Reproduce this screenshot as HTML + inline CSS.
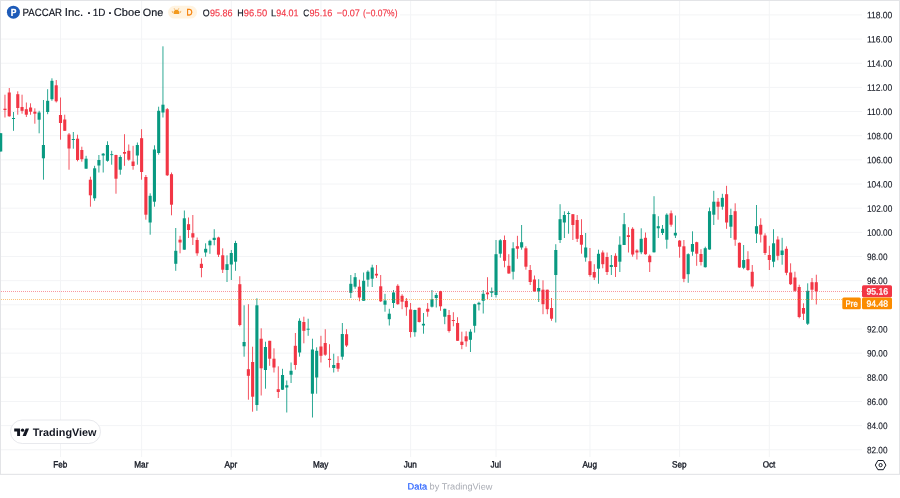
<!DOCTYPE html>
<html><head><meta charset="utf-8"><title>PACCAR Inc. chart</title>
<style>
html,body{margin:0;padding:0;background:#fff;}
body{width:900px;height:498px;position:relative;overflow:hidden;font-family:"Liberation Sans",sans-serif;}
svg{position:absolute;left:0;top:0;}
</style></head><body>

<svg width="900" height="498" viewBox="0 0 900 498">
<g fill="#e3e4e7"><rect x="0" y="0" width="900" height="1"/><rect x="0" y="0" width="1" height="474.5"/><rect x="899" y="0" width="1" height="474.5"/><rect x="0" y="473.8" width="900" height="1.1"/></g>
<rect x="1" y="449.28" width="861" height="1" fill="#f3f4f6"/>
<rect x="1" y="425.12" width="861" height="1" fill="#f3f4f6"/>
<rect x="1" y="400.96" width="861" height="1" fill="#f3f4f6"/>
<rect x="1" y="376.80" width="861" height="1" fill="#f3f4f6"/>
<rect x="1" y="352.64" width="861" height="1" fill="#f3f4f6"/>
<rect x="1" y="328.48" width="861" height="1" fill="#f3f4f6"/>
<rect x="1" y="304.32" width="861" height="1" fill="#f3f4f6"/>
<rect x="1" y="280.16" width="861" height="1" fill="#f3f4f6"/>
<rect x="1" y="256.00" width="861" height="1" fill="#f3f4f6"/>
<rect x="1" y="231.84" width="861" height="1" fill="#f3f4f6"/>
<rect x="1" y="207.68" width="861" height="1" fill="#f3f4f6"/>
<rect x="1" y="183.52" width="861" height="1" fill="#f3f4f6"/>
<rect x="1" y="159.36" width="861" height="1" fill="#f3f4f6"/>
<rect x="1" y="135.20" width="861" height="1" fill="#f3f4f6"/>
<rect x="1" y="111.04" width="861" height="1" fill="#f3f4f6"/>
<rect x="1" y="86.88" width="861" height="1" fill="#f3f4f6"/>
<rect x="1" y="62.72" width="861" height="1" fill="#f3f4f6"/>
<rect x="1" y="38.56" width="861" height="1" fill="#f3f4f6"/>
<rect x="400" y="14.40" width="462" height="1" fill="#f3f4f6"/>
<rect x="59.98" y="1" width="1" height="456" fill="#f3f4f6"/>
<rect x="141.11" y="1" width="1" height="456" fill="#f3f4f6"/>
<rect x="230.78" y="1" width="1" height="456" fill="#f3f4f6"/>
<rect x="320.45" y="1" width="1" height="456" fill="#f3f4f6"/>
<rect x="410.12" y="1" width="1" height="456" fill="#f3f4f6"/>
<rect x="495.52" y="1" width="1" height="456" fill="#f3f4f6"/>
<rect x="589.46" y="1" width="1" height="456" fill="#f3f4f6"/>
<rect x="679.13" y="1" width="1" height="456" fill="#f3f4f6"/>
<rect x="768.80" y="1" width="1" height="456" fill="#f3f4f6"/>
</svg>
<svg width="900" height="498" viewBox="0 0 900 498">
<rect x="0.27" y="133.2" width="0.85" height="18.3" fill="#089981"/>
<rect x="-0.85" y="133.2" width="3.1" height="18.3" fill="#089981"/>
<rect x="4.54" y="94.7" width="0.85" height="22.8" fill="#f23645"/>
<rect x="3.42" y="108.7" width="3.1" height="1.3" fill="#f23645"/>
<rect x="8.81" y="88.0" width="0.85" height="28.7" fill="#f23645"/>
<rect x="7.69" y="92.5" width="3.1" height="23.8" fill="#f23645"/>
<rect x="13.08" y="112.0" width="0.85" height="18.8" fill="#089981"/>
<rect x="11.96" y="118.0" width="3.1" height="1.0" fill="#089981"/>
<rect x="17.35" y="91.3" width="0.85" height="23.4" fill="#f23645"/>
<rect x="16.23" y="94.2" width="3.1" height="13.8" fill="#f23645"/>
<rect x="21.62" y="94.7" width="0.85" height="19.0" fill="#f23645"/>
<rect x="20.50" y="107.0" width="3.1" height="3.8" fill="#f23645"/>
<rect x="25.89" y="102.5" width="0.85" height="14.5" fill="#f23645"/>
<rect x="24.77" y="109.2" width="3.1" height="5.5" fill="#f23645"/>
<rect x="30.16" y="103.3" width="0.85" height="11.4" fill="#f23645"/>
<rect x="29.04" y="107.5" width="3.1" height="4.2" fill="#f23645"/>
<rect x="34.44" y="108.3" width="0.85" height="15.4" fill="#f23645"/>
<rect x="33.31" y="111.7" width="3.1" height="2.0" fill="#f23645"/>
<rect x="38.70" y="110.8" width="0.85" height="22.5" fill="#089981"/>
<rect x="37.58" y="112.5" width="3.1" height="7.2" fill="#089981"/>
<rect x="42.98" y="100.0" width="0.85" height="79.7" fill="#089981"/>
<rect x="41.85" y="145.0" width="3.1" height="13.3" fill="#089981"/>
<rect x="47.25" y="89.2" width="0.85" height="25.0" fill="#089981"/>
<rect x="46.12" y="100.8" width="3.1" height="11.2" fill="#089981"/>
<rect x="51.52" y="78.3" width="0.85" height="22.5" fill="#089981"/>
<rect x="50.39" y="80.8" width="3.1" height="18.4" fill="#089981"/>
<rect x="55.78" y="80.0" width="0.85" height="22.5" fill="#f23645"/>
<rect x="54.66" y="85.3" width="3.1" height="16.0" fill="#f23645"/>
<rect x="60.05" y="97.5" width="0.85" height="42.2" fill="#f23645"/>
<rect x="58.93" y="115.0" width="3.1" height="8.0" fill="#f23645"/>
<rect x="64.33" y="114.7" width="0.85" height="16.1" fill="#f23645"/>
<rect x="63.20" y="119.5" width="3.1" height="11.3" fill="#f23645"/>
<rect x="68.59" y="133.0" width="0.85" height="36.7" fill="#f23645"/>
<rect x="67.47" y="134.5" width="3.1" height="14.0" fill="#f23645"/>
<rect x="72.86" y="132.0" width="0.85" height="16.7" fill="#089981"/>
<rect x="71.74" y="139.0" width="3.1" height="1.0" fill="#089981"/>
<rect x="77.13" y="134.7" width="0.85" height="26.6" fill="#f23645"/>
<rect x="76.01" y="138.7" width="3.1" height="21.3" fill="#f23645"/>
<rect x="81.41" y="146.7" width="0.85" height="15.0" fill="#f23645"/>
<rect x="80.28" y="150.0" width="3.1" height="9.2" fill="#f23645"/>
<rect x="85.67" y="155.8" width="0.85" height="12.9" fill="#089981"/>
<rect x="84.55" y="158.7" width="3.1" height="10.0" fill="#089981"/>
<rect x="89.94" y="176.7" width="0.85" height="30.0" fill="#f23645"/>
<rect x="88.82" y="179.7" width="3.1" height="15.6" fill="#f23645"/>
<rect x="94.22" y="165.8" width="0.85" height="35.0" fill="#089981"/>
<rect x="93.09" y="168.3" width="3.1" height="30.0" fill="#089981"/>
<rect x="98.48" y="155.0" width="0.85" height="17.5" fill="#089981"/>
<rect x="97.36" y="160.0" width="3.1" height="5.5" fill="#089981"/>
<rect x="102.75" y="153.0" width="0.85" height="19.5" fill="#089981"/>
<rect x="101.63" y="153.7" width="3.1" height="1.8" fill="#089981"/>
<rect x="107.02" y="141.3" width="0.85" height="20.4" fill="#089981"/>
<rect x="105.90" y="145.0" width="3.1" height="15.8" fill="#089981"/>
<rect x="111.29" y="150.8" width="0.85" height="13.9" fill="#089981"/>
<rect x="110.17" y="154.2" width="3.1" height="0.9" fill="#089981"/>
<rect x="115.56" y="154.7" width="0.85" height="39.0" fill="#f23645"/>
<rect x="114.44" y="155.0" width="3.1" height="23.7" fill="#f23645"/>
<rect x="119.83" y="155.3" width="0.85" height="19.4" fill="#089981"/>
<rect x="118.71" y="157.0" width="3.1" height="12.7" fill="#089981"/>
<rect x="124.10" y="134.2" width="0.85" height="31.6" fill="#f23645"/>
<rect x="122.98" y="152.0" width="3.1" height="1.7" fill="#f23645"/>
<rect x="128.37" y="144.5" width="0.85" height="16.3" fill="#f23645"/>
<rect x="127.25" y="150.8" width="3.1" height="8.9" fill="#f23645"/>
<rect x="132.64" y="145.8" width="0.85" height="23.9" fill="#f23645"/>
<rect x="131.52" y="161.5" width="3.1" height="4.5" fill="#f23645"/>
<rect x="136.91" y="142.5" width="0.85" height="22.2" fill="#089981"/>
<rect x="135.79" y="145.0" width="3.1" height="10.5" fill="#089981"/>
<rect x="141.18" y="129.2" width="0.85" height="50.5" fill="#f23645"/>
<rect x="140.06" y="138.2" width="3.1" height="33.8" fill="#f23645"/>
<rect x="145.45" y="175.0" width="0.85" height="44.7" fill="#f23645"/>
<rect x="144.33" y="177.0" width="3.1" height="37.7" fill="#f23645"/>
<rect x="149.72" y="193.3" width="0.85" height="41.4" fill="#089981"/>
<rect x="148.60" y="195.8" width="3.1" height="26.7" fill="#089981"/>
<rect x="153.99" y="145.3" width="0.85" height="61.4" fill="#089981"/>
<rect x="152.87" y="149.5" width="3.1" height="52.2" fill="#089981"/>
<rect x="158.26" y="106.7" width="0.85" height="48.0" fill="#089981"/>
<rect x="157.14" y="110.8" width="3.1" height="42.2" fill="#089981"/>
<rect x="162.53" y="46.3" width="0.85" height="71.2" fill="#089981"/>
<rect x="161.41" y="104.7" width="3.1" height="7.8" fill="#089981"/>
<rect x="166.80" y="108.0" width="0.85" height="68.0" fill="#f23645"/>
<rect x="165.68" y="109.2" width="3.1" height="66.1" fill="#f23645"/>
<rect x="171.07" y="172.5" width="0.85" height="42.8" fill="#f23645"/>
<rect x="169.95" y="174.2" width="3.1" height="30.5" fill="#f23645"/>
<rect x="175.34" y="228.0" width="0.85" height="42.8" fill="#089981"/>
<rect x="174.22" y="250.8" width="3.1" height="13.0" fill="#089981"/>
<rect x="179.61" y="235.8" width="0.85" height="17.5" fill="#f23645"/>
<rect x="178.49" y="239.7" width="3.1" height="2.8" fill="#f23645"/>
<rect x="183.88" y="210.5" width="0.85" height="39.2" fill="#089981"/>
<rect x="182.76" y="218.3" width="3.1" height="31.4" fill="#089981"/>
<rect x="188.15" y="217.5" width="0.85" height="20.5" fill="#f23645"/>
<rect x="187.03" y="224.2" width="3.1" height="5.8" fill="#f23645"/>
<rect x="192.42" y="215.0" width="0.85" height="30.0" fill="#f23645"/>
<rect x="191.30" y="233.2" width="3.1" height="4.3" fill="#f23645"/>
<rect x="196.69" y="237.5" width="0.85" height="18.3" fill="#f23645"/>
<rect x="195.57" y="240.0" width="3.1" height="13.3" fill="#f23645"/>
<rect x="200.96" y="258.3" width="0.85" height="19.0" fill="#f23645"/>
<rect x="199.84" y="263.8" width="3.1" height="4.2" fill="#f23645"/>
<rect x="205.23" y="243.3" width="0.85" height="13.4" fill="#089981"/>
<rect x="204.11" y="248.8" width="3.1" height="3.7" fill="#089981"/>
<rect x="209.50" y="239.7" width="0.85" height="14.1" fill="#089981"/>
<rect x="208.38" y="240.8" width="3.1" height="4.5" fill="#089981"/>
<rect x="213.77" y="229.2" width="0.85" height="16.1" fill="#089981"/>
<rect x="212.65" y="237.8" width="3.1" height="2.2" fill="#089981"/>
<rect x="218.04" y="236.7" width="0.85" height="20.3" fill="#f23645"/>
<rect x="216.92" y="237.5" width="3.1" height="17.2" fill="#f23645"/>
<rect x="222.31" y="248.3" width="0.85" height="24.7" fill="#f23645"/>
<rect x="221.19" y="255.3" width="3.1" height="14.4" fill="#f23645"/>
<rect x="226.58" y="255.3" width="0.85" height="26.7" fill="#089981"/>
<rect x="225.46" y="264.2" width="3.1" height="5.8" fill="#089981"/>
<rect x="230.85" y="250.0" width="0.85" height="30.0" fill="#089981"/>
<rect x="229.73" y="253.0" width="3.1" height="11.5" fill="#089981"/>
<rect x="235.12" y="240.8" width="0.85" height="30.0" fill="#089981"/>
<rect x="234.00" y="243.0" width="3.1" height="18.7" fill="#089981"/>
<rect x="239.39" y="276.2" width="0.85" height="50.1" fill="#f23645"/>
<rect x="238.27" y="284.2" width="3.1" height="40.8" fill="#f23645"/>
<rect x="243.66" y="305.3" width="0.85" height="51.4" fill="#089981"/>
<rect x="242.54" y="342.0" width="3.1" height="4.3" fill="#089981"/>
<rect x="247.93" y="304.2" width="0.85" height="95.5" fill="#f23645"/>
<rect x="246.81" y="369.2" width="3.1" height="6.6" fill="#f23645"/>
<rect x="252.20" y="346.7" width="0.85" height="65.0" fill="#f23645"/>
<rect x="251.08" y="362.0" width="3.1" height="34.7" fill="#f23645"/>
<rect x="256.47" y="298.3" width="0.85" height="112.5" fill="#089981"/>
<rect x="255.35" y="305.3" width="3.1" height="99.7" fill="#089981"/>
<rect x="260.74" y="328.3" width="0.85" height="67.2" fill="#f23645"/>
<rect x="259.62" y="338.7" width="3.1" height="29.6" fill="#f23645"/>
<rect x="265.01" y="341.7" width="0.85" height="47.0" fill="#089981"/>
<rect x="263.89" y="347.0" width="3.1" height="23.0" fill="#089981"/>
<rect x="269.28" y="340.8" width="0.85" height="25.0" fill="#f23645"/>
<rect x="268.16" y="340.8" width="3.1" height="17.9" fill="#f23645"/>
<rect x="273.55" y="348.3" width="0.85" height="24.2" fill="#f23645"/>
<rect x="272.43" y="358.7" width="3.1" height="8.8" fill="#f23645"/>
<rect x="277.82" y="366.3" width="0.85" height="31.7" fill="#f23645"/>
<rect x="276.70" y="389.2" width="3.1" height="2.8" fill="#f23645"/>
<rect x="282.09" y="368.8" width="0.85" height="21.2" fill="#089981"/>
<rect x="280.97" y="375.0" width="3.1" height="14.7" fill="#089981"/>
<rect x="286.36" y="380.5" width="0.85" height="32.0" fill="#089981"/>
<rect x="285.24" y="385.3" width="3.1" height="2.2" fill="#089981"/>
<rect x="290.63" y="362.5" width="0.85" height="20.5" fill="#089981"/>
<rect x="289.51" y="370.8" width="3.1" height="3.9" fill="#089981"/>
<rect x="294.90" y="333.0" width="0.85" height="36.7" fill="#f23645"/>
<rect x="293.78" y="345.8" width="3.1" height="19.2" fill="#f23645"/>
<rect x="299.17" y="318.3" width="0.85" height="38.4" fill="#089981"/>
<rect x="298.05" y="320.8" width="3.1" height="31.7" fill="#089981"/>
<rect x="303.44" y="316.7" width="0.85" height="26.6" fill="#f23645"/>
<rect x="302.32" y="322.0" width="3.1" height="8.8" fill="#f23645"/>
<rect x="307.71" y="318.7" width="0.85" height="17.1" fill="#089981"/>
<rect x="306.59" y="328.7" width="3.1" height="1.0" fill="#089981"/>
<rect x="311.98" y="338.7" width="0.85" height="78.8" fill="#089981"/>
<rect x="310.86" y="349.5" width="3.1" height="44.2" fill="#089981"/>
<rect x="316.25" y="347.3" width="0.85" height="46.4" fill="#089981"/>
<rect x="315.13" y="350.8" width="3.1" height="26.7" fill="#089981"/>
<rect x="320.52" y="335.8" width="0.85" height="26.7" fill="#f23645"/>
<rect x="319.40" y="346.5" width="3.1" height="9.3" fill="#f23645"/>
<rect x="324.79" y="329.2" width="0.85" height="26.6" fill="#f23645"/>
<rect x="323.67" y="343.0" width="3.1" height="11.7" fill="#f23645"/>
<rect x="329.06" y="344.2" width="0.85" height="23.3" fill="#f23645"/>
<rect x="327.94" y="358.8" width="3.1" height="1.2" fill="#f23645"/>
<rect x="333.33" y="353.7" width="0.85" height="18.8" fill="#089981"/>
<rect x="332.21" y="365.0" width="3.1" height="3.0" fill="#089981"/>
<rect x="337.60" y="356.2" width="0.85" height="15.5" fill="#f23645"/>
<rect x="336.48" y="363.0" width="3.1" height="5.7" fill="#f23645"/>
<rect x="341.87" y="323.0" width="0.85" height="36.7" fill="#089981"/>
<rect x="340.75" y="334.0" width="3.1" height="22.7" fill="#089981"/>
<rect x="346.14" y="329.2" width="0.85" height="17.8" fill="#f23645"/>
<rect x="345.02" y="334.2" width="3.1" height="11.3" fill="#f23645"/>
<rect x="350.41" y="275.0" width="0.85" height="23.0" fill="#089981"/>
<rect x="349.29" y="283.8" width="3.1" height="9.0" fill="#089981"/>
<rect x="354.68" y="273.0" width="0.85" height="15.7" fill="#089981"/>
<rect x="353.56" y="277.2" width="3.1" height="9.5" fill="#089981"/>
<rect x="358.95" y="279.7" width="0.85" height="21.6" fill="#f23645"/>
<rect x="357.83" y="286.7" width="3.1" height="10.8" fill="#f23645"/>
<rect x="363.22" y="272.5" width="0.85" height="28.3" fill="#089981"/>
<rect x="362.10" y="280.8" width="3.1" height="20.0" fill="#089981"/>
<rect x="367.49" y="270.3" width="0.85" height="16.4" fill="#089981"/>
<rect x="366.37" y="271.7" width="3.1" height="8.0" fill="#089981"/>
<rect x="371.76" y="264.7" width="0.85" height="22.3" fill="#089981"/>
<rect x="370.64" y="267.5" width="3.1" height="11.2" fill="#089981"/>
<rect x="376.03" y="265.0" width="0.85" height="13.0" fill="#f23645"/>
<rect x="374.91" y="273.8" width="3.1" height="1.7" fill="#f23645"/>
<rect x="380.30" y="275.0" width="0.85" height="27.0" fill="#f23645"/>
<rect x="379.18" y="286.3" width="3.1" height="15.0" fill="#f23645"/>
<rect x="384.57" y="293.8" width="0.85" height="17.9" fill="#089981"/>
<rect x="383.45" y="300.5" width="3.1" height="4.2" fill="#089981"/>
<rect x="388.84" y="308.8" width="0.85" height="16.7" fill="#089981"/>
<rect x="387.72" y="313.7" width="3.1" height="5.5" fill="#089981"/>
<rect x="393.11" y="290.0" width="0.85" height="18.0" fill="#089981"/>
<rect x="391.99" y="292.5" width="3.1" height="10.5" fill="#089981"/>
<rect x="397.38" y="284.2" width="0.85" height="20.5" fill="#f23645"/>
<rect x="396.26" y="285.8" width="3.1" height="18.4" fill="#f23645"/>
<rect x="401.65" y="294.2" width="0.85" height="15.0" fill="#f23645"/>
<rect x="400.53" y="295.8" width="3.1" height="5.9" fill="#f23645"/>
<rect x="405.92" y="298.0" width="0.85" height="17.8" fill="#f23645"/>
<rect x="404.80" y="300.8" width="3.1" height="6.4" fill="#f23645"/>
<rect x="410.19" y="303.0" width="0.85" height="34.5" fill="#f23645"/>
<rect x="409.07" y="309.5" width="3.1" height="22.5" fill="#f23645"/>
<rect x="414.46" y="309.7" width="0.85" height="27.0" fill="#089981"/>
<rect x="413.34" y="310.0" width="3.1" height="22.2" fill="#089981"/>
<rect x="418.73" y="307.5" width="0.85" height="15.0" fill="#f23645"/>
<rect x="417.61" y="307.8" width="3.1" height="14.2" fill="#f23645"/>
<rect x="423.00" y="313.0" width="0.85" height="20.7" fill="#089981"/>
<rect x="421.88" y="323.8" width="3.1" height="1.7" fill="#089981"/>
<rect x="427.27" y="303.0" width="0.85" height="13.7" fill="#f23645"/>
<rect x="426.15" y="308.8" width="3.1" height="2.9" fill="#f23645"/>
<rect x="431.54" y="290.0" width="0.85" height="17.5" fill="#089981"/>
<rect x="430.42" y="299.2" width="3.1" height="7.5" fill="#089981"/>
<rect x="435.81" y="293.0" width="0.85" height="14.5" fill="#089981"/>
<rect x="434.69" y="295.0" width="3.1" height="3.0" fill="#089981"/>
<rect x="440.08" y="290.8" width="0.85" height="20.0" fill="#f23645"/>
<rect x="438.96" y="291.2" width="3.1" height="15.1" fill="#f23645"/>
<rect x="444.35" y="308.7" width="0.85" height="15.5" fill="#089981"/>
<rect x="443.23" y="308.8" width="3.1" height="7.9" fill="#089981"/>
<rect x="448.62" y="310.0" width="0.85" height="22.6" fill="#f23645"/>
<rect x="447.50" y="315.0" width="3.1" height="16.0" fill="#f23645"/>
<rect x="452.89" y="312.2" width="0.85" height="14.1" fill="#f23645"/>
<rect x="451.77" y="320.0" width="3.1" height="1.0" fill="#f23645"/>
<rect x="457.16" y="317.2" width="0.85" height="23.6" fill="#f23645"/>
<rect x="456.04" y="323.0" width="3.1" height="17.8" fill="#f23645"/>
<rect x="461.43" y="331.7" width="0.85" height="17.5" fill="#f23645"/>
<rect x="460.31" y="341.7" width="3.1" height="3.3" fill="#f23645"/>
<rect x="465.70" y="331.3" width="0.85" height="15.4" fill="#f23645"/>
<rect x="464.58" y="336.3" width="3.1" height="5.0" fill="#f23645"/>
<rect x="469.97" y="329.2" width="0.85" height="22.8" fill="#089981"/>
<rect x="468.85" y="331.7" width="3.1" height="8.1" fill="#089981"/>
<rect x="474.24" y="303.7" width="0.85" height="28.9" fill="#089981"/>
<rect x="473.12" y="304.2" width="3.1" height="21.6" fill="#089981"/>
<rect x="478.51" y="301.7" width="0.85" height="8.8" fill="#089981"/>
<rect x="477.39" y="302.8" width="3.1" height="1.7" fill="#089981"/>
<rect x="482.78" y="290.0" width="0.85" height="23.5" fill="#089981"/>
<rect x="481.66" y="293.8" width="3.1" height="7.0" fill="#089981"/>
<rect x="487.05" y="277.2" width="0.85" height="21.8" fill="#f23645"/>
<rect x="485.93" y="292.5" width="3.1" height="1.8" fill="#f23645"/>
<rect x="491.32" y="287.5" width="0.85" height="9.5" fill="#089981"/>
<rect x="490.20" y="291.2" width="3.1" height="1.6" fill="#089981"/>
<rect x="495.59" y="240.0" width="0.85" height="57.5" fill="#089981"/>
<rect x="494.47" y="254.2" width="3.1" height="40.8" fill="#089981"/>
<rect x="499.86" y="239.2" width="0.85" height="18.5" fill="#089981"/>
<rect x="498.74" y="240.3" width="3.1" height="13.4" fill="#089981"/>
<rect x="504.13" y="235.5" width="0.85" height="31.8" fill="#f23645"/>
<rect x="503.01" y="240.0" width="3.1" height="20.8" fill="#f23645"/>
<rect x="508.40" y="254.2" width="0.85" height="19.5" fill="#f23645"/>
<rect x="507.28" y="265.8" width="3.1" height="7.7" fill="#f23645"/>
<rect x="512.68" y="242.2" width="0.85" height="37.3" fill="#089981"/>
<rect x="511.55" y="248.3" width="3.1" height="23.4" fill="#089981"/>
<rect x="516.95" y="235.8" width="0.85" height="23.0" fill="#f23645"/>
<rect x="515.82" y="246.2" width="3.1" height="2.5" fill="#f23645"/>
<rect x="521.22" y="225.0" width="0.85" height="24.7" fill="#089981"/>
<rect x="520.09" y="242.2" width="3.1" height="5.3" fill="#089981"/>
<rect x="525.49" y="246.3" width="0.85" height="23.4" fill="#f23645"/>
<rect x="524.36" y="248.3" width="3.1" height="18.4" fill="#f23645"/>
<rect x="529.75" y="265.0" width="0.85" height="20.0" fill="#f23645"/>
<rect x="528.63" y="270.0" width="3.1" height="12.0" fill="#f23645"/>
<rect x="534.03" y="275.5" width="0.85" height="16.2" fill="#f23645"/>
<rect x="532.90" y="279.5" width="3.1" height="11.8" fill="#f23645"/>
<rect x="538.30" y="279.2" width="0.85" height="22.8" fill="#089981"/>
<rect x="537.17" y="288.0" width="3.1" height="3.3" fill="#089981"/>
<rect x="542.57" y="280.3" width="0.85" height="33.9" fill="#f23645"/>
<rect x="541.44" y="289.7" width="3.1" height="14.5" fill="#f23645"/>
<rect x="546.84" y="289.7" width="0.85" height="24.5" fill="#f23645"/>
<rect x="545.71" y="289.7" width="3.1" height="19.5" fill="#f23645"/>
<rect x="551.11" y="298.0" width="0.85" height="22.8" fill="#f23645"/>
<rect x="549.98" y="308.0" width="3.1" height="10.7" fill="#f23645"/>
<rect x="555.38" y="244.2" width="0.85" height="78.3" fill="#089981"/>
<rect x="554.25" y="250.0" width="3.1" height="25.0" fill="#089981"/>
<rect x="559.64" y="204.2" width="0.85" height="38.8" fill="#089981"/>
<rect x="558.52" y="219.2" width="3.1" height="20.8" fill="#089981"/>
<rect x="563.92" y="211.3" width="0.85" height="26.7" fill="#089981"/>
<rect x="562.79" y="215.0" width="3.1" height="7.5" fill="#089981"/>
<rect x="568.19" y="211.3" width="0.85" height="22.4" fill="#089981"/>
<rect x="567.06" y="213.0" width="3.1" height="0.9" fill="#089981"/>
<rect x="572.46" y="214.2" width="0.85" height="25.8" fill="#f23645"/>
<rect x="571.33" y="214.2" width="3.1" height="10.8" fill="#f23645"/>
<rect x="576.73" y="215.0" width="0.85" height="27.0" fill="#f23645"/>
<rect x="575.60" y="220.0" width="3.1" height="18.8" fill="#f23645"/>
<rect x="581.00" y="219.2" width="0.85" height="34.5" fill="#f23645"/>
<rect x="579.87" y="235.0" width="3.1" height="9.7" fill="#f23645"/>
<rect x="585.26" y="233.0" width="0.85" height="28.7" fill="#089981"/>
<rect x="584.14" y="247.5" width="3.1" height="10.0" fill="#089981"/>
<rect x="589.54" y="248.0" width="0.85" height="28.7" fill="#f23645"/>
<rect x="588.41" y="261.2" width="3.1" height="13.8" fill="#f23645"/>
<rect x="593.81" y="264.2" width="0.85" height="15.8" fill="#f23645"/>
<rect x="592.68" y="272.0" width="3.1" height="5.5" fill="#f23645"/>
<rect x="598.08" y="249.7" width="0.85" height="34.0" fill="#089981"/>
<rect x="596.95" y="253.8" width="3.1" height="14.9" fill="#089981"/>
<rect x="602.35" y="250.4" width="0.85" height="17.9" fill="#f23645"/>
<rect x="601.22" y="252.5" width="3.1" height="11.7" fill="#f23645"/>
<rect x="606.62" y="252.5" width="0.85" height="22.5" fill="#f23645"/>
<rect x="605.49" y="257.0" width="3.1" height="15.0" fill="#f23645"/>
<rect x="610.88" y="255.0" width="0.85" height="20.0" fill="#089981"/>
<rect x="609.76" y="265.0" width="3.1" height="2.0" fill="#089981"/>
<rect x="615.15" y="253.3" width="0.85" height="23.7" fill="#f23645"/>
<rect x="614.03" y="255.8" width="3.1" height="11.2" fill="#f23645"/>
<rect x="619.43" y="236.3" width="0.85" height="35.7" fill="#089981"/>
<rect x="618.30" y="244.7" width="3.1" height="17.0" fill="#089981"/>
<rect x="623.70" y="213.0" width="0.85" height="32.0" fill="#089981"/>
<rect x="622.57" y="224.2" width="3.1" height="20.8" fill="#089981"/>
<rect x="627.97" y="227.2" width="0.85" height="25.3" fill="#f23645"/>
<rect x="626.84" y="235.2" width="3.1" height="1.8" fill="#f23645"/>
<rect x="632.24" y="227.2" width="0.85" height="29.5" fill="#f23645"/>
<rect x="631.11" y="228.8" width="3.1" height="25.7" fill="#f23645"/>
<rect x="636.50" y="249.2" width="0.85" height="10.3" fill="#f23645"/>
<rect x="635.38" y="250.5" width="3.1" height="2.0" fill="#f23645"/>
<rect x="640.77" y="228.3" width="0.85" height="25.9" fill="#089981"/>
<rect x="639.65" y="238.8" width="3.1" height="13.5" fill="#089981"/>
<rect x="645.05" y="232.5" width="0.85" height="22.2" fill="#f23645"/>
<rect x="643.92" y="237.8" width="3.1" height="16.4" fill="#f23645"/>
<rect x="649.32" y="254.5" width="0.85" height="17.5" fill="#f23645"/>
<rect x="648.19" y="255.8" width="3.1" height="6.4" fill="#f23645"/>
<rect x="653.59" y="196.2" width="0.85" height="56.3" fill="#089981"/>
<rect x="652.46" y="214.2" width="3.1" height="38.1" fill="#089981"/>
<rect x="657.86" y="216.2" width="0.85" height="21.8" fill="#089981"/>
<rect x="656.73" y="226.2" width="3.1" height="2.1" fill="#089981"/>
<rect x="662.12" y="225.0" width="0.85" height="10.0" fill="#089981"/>
<rect x="661.00" y="228.8" width="3.1" height="4.2" fill="#089981"/>
<rect x="666.39" y="213.3" width="0.85" height="35.4" fill="#089981"/>
<rect x="665.27" y="214.7" width="3.1" height="25.0" fill="#089981"/>
<rect x="670.67" y="210.5" width="0.85" height="16.2" fill="#f23645"/>
<rect x="669.54" y="213.3" width="3.1" height="11.4" fill="#f23645"/>
<rect x="674.94" y="215.5" width="0.85" height="22.5" fill="#089981"/>
<rect x="673.81" y="232.8" width="3.1" height="2.7" fill="#089981"/>
<rect x="679.21" y="240.0" width="0.85" height="17.7" fill="#f23645"/>
<rect x="678.08" y="240.6" width="3.1" height="6.1" fill="#f23645"/>
<rect x="683.48" y="240.0" width="0.85" height="42.2" fill="#f23645"/>
<rect x="682.35" y="246.3" width="3.1" height="32.5" fill="#f23645"/>
<rect x="687.75" y="253.3" width="0.85" height="29.5" fill="#089981"/>
<rect x="686.62" y="254.2" width="3.1" height="20.0" fill="#089981"/>
<rect x="692.01" y="231.3" width="0.85" height="24.5" fill="#089981"/>
<rect x="690.89" y="244.0" width="3.1" height="7.7" fill="#089981"/>
<rect x="696.28" y="241.7" width="0.85" height="24.1" fill="#f23645"/>
<rect x="695.16" y="242.2" width="3.1" height="11.5" fill="#f23645"/>
<rect x="700.56" y="249.2" width="0.85" height="16.3" fill="#f23645"/>
<rect x="699.43" y="254.0" width="3.1" height="8.0" fill="#f23645"/>
<rect x="704.83" y="246.7" width="0.85" height="20.8" fill="#089981"/>
<rect x="703.70" y="248.2" width="3.1" height="19.0" fill="#089981"/>
<rect x="709.10" y="207.5" width="0.85" height="42.2" fill="#089981"/>
<rect x="707.97" y="211.2" width="3.1" height="38.3" fill="#089981"/>
<rect x="713.37" y="190.8" width="0.85" height="34.2" fill="#089981"/>
<rect x="712.24" y="201.7" width="3.1" height="13.0" fill="#089981"/>
<rect x="717.63" y="198.0" width="0.85" height="21.7" fill="#f23645"/>
<rect x="716.51" y="201.7" width="3.1" height="5.0" fill="#f23645"/>
<rect x="721.90" y="193.8" width="0.85" height="15.9" fill="#089981"/>
<rect x="720.78" y="197.8" width="3.1" height="8.9" fill="#089981"/>
<rect x="726.18" y="185.8" width="0.85" height="43.0" fill="#f23645"/>
<rect x="725.05" y="194.2" width="3.1" height="28.3" fill="#f23645"/>
<rect x="730.45" y="208.7" width="0.85" height="29.3" fill="#089981"/>
<rect x="729.32" y="215.0" width="3.1" height="11.7" fill="#089981"/>
<rect x="734.72" y="203.3" width="0.85" height="42.5" fill="#f23645"/>
<rect x="733.59" y="211.2" width="3.1" height="28.5" fill="#f23645"/>
<rect x="738.99" y="242.5" width="0.85" height="25.3" fill="#f23645"/>
<rect x="737.86" y="242.8" width="3.1" height="24.7" fill="#f23645"/>
<rect x="743.25" y="245.0" width="0.85" height="24.2" fill="#089981"/>
<rect x="742.13" y="260.0" width="3.1" height="7.8" fill="#089981"/>
<rect x="747.52" y="251.2" width="0.85" height="19.6" fill="#f23645"/>
<rect x="746.40" y="259.2" width="3.1" height="10.8" fill="#f23645"/>
<rect x="751.80" y="265.0" width="0.85" height="23.5" fill="#f23645"/>
<rect x="750.67" y="271.8" width="3.1" height="14.7" fill="#f23645"/>
<rect x="756.07" y="205.0" width="0.85" height="38.0" fill="#089981"/>
<rect x="754.94" y="226.2" width="3.1" height="7.5" fill="#089981"/>
<rect x="760.34" y="218.3" width="0.85" height="24.2" fill="#f23645"/>
<rect x="759.21" y="224.8" width="3.1" height="9.8" fill="#f23645"/>
<rect x="764.61" y="233.3" width="0.85" height="21.7" fill="#f23645"/>
<rect x="763.48" y="235.5" width="3.1" height="17.5" fill="#f23645"/>
<rect x="768.88" y="245.8" width="0.85" height="24.2" fill="#f23645"/>
<rect x="767.75" y="255.0" width="3.1" height="5.0" fill="#f23645"/>
<rect x="773.14" y="229.2" width="0.85" height="38.0" fill="#089981"/>
<rect x="772.02" y="243.3" width="3.1" height="18.4" fill="#089981"/>
<rect x="777.41" y="236.3" width="0.85" height="24.0" fill="#f23645"/>
<rect x="776.29" y="239.5" width="3.1" height="16.3" fill="#f23645"/>
<rect x="781.69" y="237.8" width="0.85" height="26.9" fill="#089981"/>
<rect x="780.56" y="250.5" width="3.1" height="4.5" fill="#089981"/>
<rect x="785.96" y="246.3" width="0.85" height="28.9" fill="#f23645"/>
<rect x="784.83" y="248.8" width="3.1" height="24.0" fill="#f23645"/>
<rect x="790.23" y="263.3" width="0.85" height="21.7" fill="#f23645"/>
<rect x="789.10" y="272.5" width="3.1" height="11.7" fill="#f23645"/>
<rect x="794.50" y="271.7" width="0.85" height="20.0" fill="#f23645"/>
<rect x="793.37" y="277.5" width="3.1" height="13.3" fill="#f23645"/>
<rect x="798.76" y="284.7" width="0.85" height="33.6" fill="#f23645"/>
<rect x="797.64" y="287.0" width="3.1" height="30.0" fill="#f23645"/>
<rect x="803.03" y="303.3" width="0.85" height="16.7" fill="#f23645"/>
<rect x="801.91" y="308.0" width="3.1" height="5.7" fill="#f23645"/>
<rect x="807.31" y="283.3" width="0.85" height="41.7" fill="#089981"/>
<rect x="806.18" y="290.8" width="3.1" height="32.9" fill="#089981"/>
<rect x="811.58" y="278.0" width="0.85" height="21.7" fill="#f23645"/>
<rect x="810.45" y="282.2" width="3.1" height="7.5" fill="#f23645"/>
<rect x="815.85" y="274.7" width="0.85" height="29.8" fill="#f23645"/>
<rect x="814.72" y="282.2" width="3.1" height="9.0" fill="#f23645"/>
</svg>
<svg width="900" height="498" viewBox="0 0 900 498" shape-rendering="crispEdges">
<line x1="1" x2="862" y1="291.5" y2="291.5" stroke="#f23645" stroke-width="1" stroke-dasharray="1 1" opacity="0.5"/>
<line x1="1" x2="843" y1="299.5" y2="299.5" stroke="#fb8c00" stroke-width="1" stroke-dasharray="1 1" opacity="0.5"/>
</svg>
<!-- symbol logo -->
<svg width="900" height="498" viewBox="0 0 900 498">

<circle cx="13.4" cy="12.2" r="6.5" fill="#1e5bb8"/>
<path transform="translate(0,0.3)" d="M11.2 15.6V8.4h2.9a2.3 2.3 0 0 1 0 4.6h-1.3v2.6z M12.8 9.9v1.7h1.1a0.85 0.85 0 0 0 0-1.7z" fill="#fff" fill-rule="evenodd"/>
<!-- D badge -->
<rect x="168.1" y="5.8" width="28.9" height="12.7" rx="6.35" fill="#fff3e0"/>
<g fill="#f29a1f" stroke="#f0a544" stroke-linecap="round" stroke-width="0.8">
<path d="M173.85 14.05A2.95 2.95 0 1 1 179.15 14.05z" stroke="none"/>
<path d="M174.35 8.7l0.45 0.8M178.65 8.7l-0.45 0.8M172.25 11.3l0.3 1.2M180.75 11.3l-0.3 1.2" fill="none"/>
</g>
<!-- TradingView pill -->
<rect x="10.5" y="420" width="90" height="23.5" rx="11.7" fill="#fff" stroke="#e8e9ed" stroke-width="1"/>
<g transform="translate(14.2,426.8) scale(0.418)" fill="#131722">
<path d="M14 22H7V11H0V4h14v18z"/><circle cx="20" cy="8" r="4"/><path d="M28 22h-8l7.5-18h8L28 22z"/>
</g>
<!-- price labels -->
<rect x="862" y="285.3" width="30" height="12" rx="1.5" fill="#f23645"/>
<rect x="862" y="297.6" width="30" height="11.7" rx="1.5" fill="#fb8c00"/>
<rect x="842.3" y="297.6" width="18.5" height="11.7" rx="1.5" fill="#fb8c00"/>
<!-- gear -->
<g fill="none" stroke="#131722" stroke-width="1">
<path d="M877.9 460.5h5.4l2.6 4.6-2.6 4.6h-5.4l-2.6-4.6z"/>
<circle cx="880.6" cy="465.1" r="1.6"/>
</g>
</svg>
<svg width="900" height="498" viewBox="0 0 900 498" style="font-family:'Liberation Sans',sans-serif">
<text id="t_w1" transform="matrix(0.9214,0.0005,0,1,22.53,16.10)" font-size="10.5" fill="#131722" stroke="#131722" stroke-width="0.18">PACCAR</text>
<text id="t_w2" transform="matrix(1.0850,0.0005,0,1,64.83,16.10)" font-size="10.5" fill="#131722" stroke="#131722" stroke-width="0.18">Inc.</text>
<text id="t_w3" transform="matrix(1.0000,0.0005,0,1,87.20,16.10)" font-size="10.5" fill="#131722" stroke="#131722" stroke-width="0.7">·</text>
<text id="t_w4" transform="matrix(0.9432,0.0005,0,1,92.83,16.10)" font-size="10.5" fill="#131722" stroke="#131722" stroke-width="0.18">1D</text>
<text id="t_w5" transform="matrix(1.0000,0.0005,0,1,108.20,16.10)" font-size="10.5" fill="#131722" stroke="#131722" stroke-width="0.7">·</text>
<text id="t_w6" transform="matrix(1.0553,0.0005,0,1,113.83,16.10)" font-size="10.5" fill="#131722" stroke="#131722" stroke-width="0.18">Cboe</text>
<text id="t_w7" transform="matrix(1.0314,0.0005,0,1,142.83,16.10)" font-size="10.5" fill="#131722" stroke="#131722" stroke-width="0.18">One</text>
<text id="t_D" transform="matrix(0.9172,0.0005,0,1,186.39,15.35)" font-size="9.1" fill="#f57c00" stroke="#f57c00" stroke-width="0.35">D</text>
<text id="t_O" transform="matrix(0.9079,0.0005,0,1,202.76,16.15)" font-size="9.75" fill="#131722" stroke="#131722" stroke-width="0.15">O</text>
<text id="t_Ov" transform="matrix(0.9299,0.0005,0,1,209.96,16.15)" font-size="9.75" fill="#f23645" stroke="#f23645" stroke-width="0.15">95.86</text>
<text id="t_H" transform="matrix(0.9198,0.0005,0,1,237.36,16.15)" font-size="9.75" fill="#131722" stroke="#131722" stroke-width="0.15">H</text>
<text id="t_Hv" transform="matrix(0.9565,0.0005,0,1,243.86,16.15)" font-size="9.75" fill="#f23645" stroke="#f23645" stroke-width="0.15">96.50</text>
<text id="t_L" transform="matrix(0.9563,0.0005,0,1,270.96,16.15)" font-size="9.75" fill="#131722" stroke="#131722" stroke-width="0.15">L</text>
<text id="t_Lv" transform="matrix(0.9163,0.0005,0,1,276.16,16.15)" font-size="9.75" fill="#f23645" stroke="#f23645" stroke-width="0.15">94.01</text>
<text id="t_C" transform="matrix(0.8488,0.0005,0,1,303.26,16.15)" font-size="9.75" fill="#131722" stroke="#131722" stroke-width="0.15">C</text>
<text id="t_Cv" transform="matrix(0.9419,0.0005,0,1,309.46,16.15)" font-size="9.75" fill="#f23645" stroke="#f23645" stroke-width="0.15">95.16</text>
<text id="t_chg" transform="matrix(0.9321,0.0005,0,1,336.86,16.15)" font-size="9.75" fill="#f23645" stroke="#f23645" stroke-width="0.15">−0.07</text>
<text id="t_pct" transform="matrix(0.8669,0.0005,0,1,362.96,16.15)" font-size="9.75" fill="#f23645" stroke="#f23645" stroke-width="0.15">(−0.07%)</text>
<text id="p82" transform="matrix(0.8975,0.0005,0,1,866.89,453.23)" font-size="9.2" fill="#131722" stroke="#131722" stroke-width="0.12">82.00</text>
<text id="p84" transform="matrix(0.8975,0.0005,0,1,866.89,429.07)" font-size="9.2" fill="#131722" stroke="#131722" stroke-width="0.12">84.00</text>
<text id="p86" transform="matrix(0.8975,0.0005,0,1,866.89,404.91)" font-size="9.2" fill="#131722" stroke="#131722" stroke-width="0.12">86.00</text>
<text id="p88" transform="matrix(0.8975,0.0005,0,1,866.89,380.75)" font-size="9.2" fill="#131722" stroke="#131722" stroke-width="0.12">88.00</text>
<text id="p90" transform="matrix(0.8975,0.0005,0,1,866.89,356.59)" font-size="9.2" fill="#131722" stroke="#131722" stroke-width="0.12">90.00</text>
<text id="p92" transform="matrix(0.8975,0.0005,0,1,866.89,332.43)" font-size="9.2" fill="#131722" stroke="#131722" stroke-width="0.12">92.00</text>
<text id="p96" transform="matrix(0.8975,0.0005,0,1,866.89,284.11)" font-size="9.2" fill="#131722" stroke="#131722" stroke-width="0.12">96.00</text>
<text id="p98" transform="matrix(0.8975,0.0005,0,1,866.89,259.95)" font-size="9.2" fill="#131722" stroke="#131722" stroke-width="0.12">98.00</text>
<text id="p100" transform="matrix(0.9056,0.0005,0,1,866.89,235.79)" font-size="9.2" fill="#131722" stroke="#131722" stroke-width="0.12">100.00</text>
<text id="p102" transform="matrix(0.9056,0.0005,0,1,866.89,211.63)" font-size="9.2" fill="#131722" stroke="#131722" stroke-width="0.12">102.00</text>
<text id="p104" transform="matrix(0.9056,0.0005,0,1,866.89,187.47)" font-size="9.2" fill="#131722" stroke="#131722" stroke-width="0.12">104.00</text>
<text id="p106" transform="matrix(0.9056,0.0005,0,1,866.89,163.31)" font-size="9.2" fill="#131722" stroke="#131722" stroke-width="0.12">106.00</text>
<text id="p108" transform="matrix(0.9056,0.0005,0,1,866.89,139.15)" font-size="9.2" fill="#131722" stroke="#131722" stroke-width="0.12">108.00</text>
<text id="p110" transform="matrix(0.9267,0.0005,0,1,866.89,114.99)" font-size="9.2" fill="#131722" stroke="#131722" stroke-width="0.12">110.00</text>
<text id="p112" transform="matrix(0.9267,0.0005,0,1,866.89,90.83)" font-size="9.2" fill="#131722" stroke="#131722" stroke-width="0.12">112.00</text>
<text id="p114" transform="matrix(0.9267,0.0005,0,1,866.89,66.67)" font-size="9.2" fill="#131722" stroke="#131722" stroke-width="0.12">114.00</text>
<text id="p116" transform="matrix(0.9267,0.0005,0,1,866.89,42.51)" font-size="9.2" fill="#131722" stroke="#131722" stroke-width="0.12">116.00</text>
<text id="p118" transform="matrix(0.9267,0.0005,0,1,866.89,18.35)" font-size="9.2" fill="#131722" stroke="#131722" stroke-width="0.12">118.00</text>
<text id="l_last" transform="matrix(0.9356,0.0005,0,1,866.49,294.40)" font-size="9.2" fill="#ffffff" stroke="#ffffff" stroke-width="0.3">95.16</text>
<text id="l_pre" transform="matrix(0.9356,0.0005,0,1,866.49,306.70)" font-size="9.2" fill="#ffffff" stroke="#ffffff" stroke-width="0.3">94.48</text>
<text id="l_pretxt" transform="matrix(0.8474,0.0005,0,1,845.59,306.70)" font-size="9.2" fill="#ffffff" stroke="#ffffff" stroke-width="0.3">Pre</text>
<text id="m14" transform="matrix(0.9000,0.0005,0,1,60.18,467.40)" font-size="9.1" fill="#131722" text-anchor="middle" stroke="#131722" stroke-width="0.35">Feb</text>
<text id="m33" transform="matrix(0.9000,0.0005,0,1,141.31,467.40)" font-size="9.1" fill="#131722" text-anchor="middle" stroke="#131722" stroke-width="0.35">Mar</text>
<text id="m54" transform="matrix(0.9000,0.0005,0,1,230.98,467.40)" font-size="9.1" fill="#131722" text-anchor="middle" stroke="#131722" stroke-width="0.35">Apr</text>
<text id="m75" transform="matrix(0.9000,0.0005,0,1,320.65,467.40)" font-size="9.1" fill="#131722" text-anchor="middle" stroke="#131722" stroke-width="0.35">May</text>
<text id="m96" transform="matrix(0.9000,0.0005,0,1,410.32,467.40)" font-size="9.1" fill="#131722" text-anchor="middle" stroke="#131722" stroke-width="0.35">Jun</text>
<text id="m116" transform="matrix(0.9000,0.0005,0,1,495.72,467.40)" font-size="9.1" fill="#131722" text-anchor="middle" stroke="#131722" stroke-width="0.35">Jul</text>
<text id="m138" transform="matrix(0.9000,0.0005,0,1,589.66,467.40)" font-size="9.1" fill="#131722" text-anchor="middle" stroke="#131722" stroke-width="0.35">Aug</text>
<text id="m159" transform="matrix(0.9000,0.0005,0,1,679.33,467.40)" font-size="9.1" fill="#131722" text-anchor="middle" stroke="#131722" stroke-width="0.35">Sep</text>
<text id="m180" transform="matrix(0.9000,0.0005,0,1,769.00,467.40)" font-size="9.1" fill="#131722" text-anchor="middle" stroke="#131722" stroke-width="0.35">Oct</text>
<text id="t_tv" transform="matrix(1.0100,0.0005,0,1,32.82,436.00)" font-size="10.75" fill="#131722" font-weight="700">TradingView</text>
<text id="t_data" transform="matrix(1.0045,0.0005,0,1,407.59,489.60)" font-size="9.2" fill="#2962ff" stroke="#2962ff" stroke-width="0.2">Data</text>
<text id="t_by" transform="matrix(1.0022,0.0005,0,1,429.59,489.60)" font-size="9.2" fill="#a9acb4">by TradingView</text>
</svg>
</body></html>
